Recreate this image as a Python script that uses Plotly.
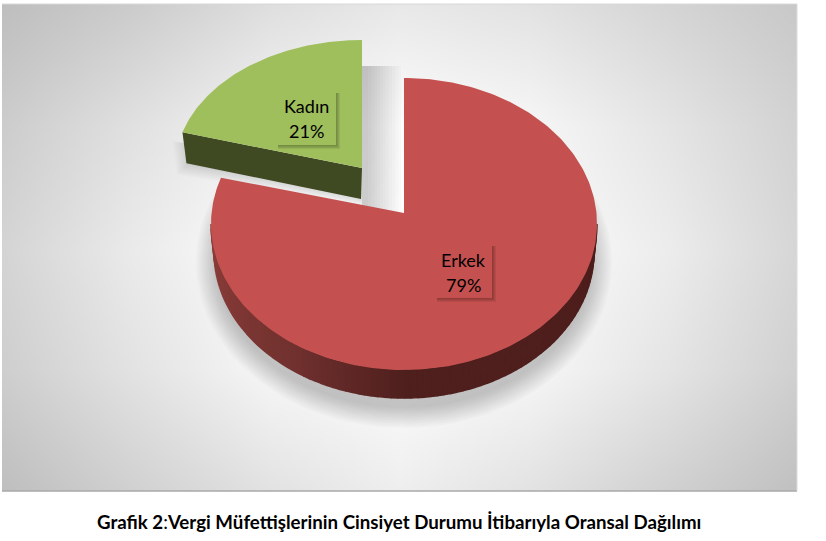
import numpy as np
import plotly.graph_objects as go

# pasta dilimleri
categories = ['Erkek', 'Kadın']
values = [79, 21]
caption_start = 'Grafik 2'
caption_end = 'Vergi Müfettişlerinin Cinsiyet Durumu İtibarıyla Oransal Dağılımı'

# arka plan gri tonlari
bg_x = [2, 130, 270, 400, 530, 670, 797]
bg_y = [4, 125, 250, 370, 491]
bg_grey = [
    [190, 203, 222, 232, 226, 212, 200],
    [204, 224, 244, 252, 246, 228, 210],
    [212, 234, 252, 255, 252, 236, 214],
    [206, 226, 246, 252, 246, 228, 208],
    [190, 208, 226, 238, 226, 208, 192],
]

RED, GREEN = '#c4514f', '#9fbe5c'
GREEN_SIDE = '#3f4a22'
RAY_RY = 145


def arc(apex, cx, cy, rx, ry, start, end, n=120):
    # dilim yayi: tepe noktasindan cikan isinin elipsle kesisimi
    pts_x, pts_y = [], []
    for a in np.linspace(start, end, n) * 2 * np.pi:
        dx, dy = np.sin(a) * rx, -np.cos(a) * RAY_RY
        ox, oy = apex[0] - cx, apex[1] - cy
        qa = (dx / rx) ** 2 + (dy / ry) ** 2
        qb = 2 * (ox * dx / rx ** 2 + oy * dy / ry ** 2)
        qc = (ox / rx) ** 2 + (oy / ry) ** 2 - 1
        s = (-qb + np.sqrt(qb ** 2 - 4 * qa * qc)) / (2 * qa)
        pts_x.append(apex[0] + s * dx)
        pts_y.append(apex[1] + s * dy)
    return pts_x, pts_y


def poly(fig, xs, ys, color, line=False):
    fig.add_trace(go.Scatter(
        x=list(xs), y=list(ys), mode='lines', fill='toself', fillcolor=color,
        line=dict(width=1.5 if line else 0, color=color),
        hoverinfo='skip', showlegend=False))


fig = go.Figure()
fig.add_trace(go.Heatmap(
    x=bg_x, y=bg_y, z=bg_grey, zsmooth='best', showscale=False, hoverinfo='skip',
    zmin=0, zmax=255, colorscale=[[0, '#000000'], [1, '#ffffff']]))

red_frac = values[0] / sum(values)

# golgeler
for d in range(0, 21, 2):
    x, y = arc((404, 224), 404, 262, 188 + d, 146 + d, 0, red_frac)
    poly(fig, [404] + x, [224] + y, 'rgba(0,0,0,0.018)')
for x1 in range(368, 404, 3):
    poly(fig, [362, x1, x1, 362], [66, 66, 216, 216], 'rgba(0,0,0,0.014)')

gx, gy = arc((362, 168), 362, 168, 187, 128, red_frac, 1)
for d in range(0, 17, 2):
    poly(fig, [gx[0] + 6 - d, 362, 362, gx[0] + 6 - d * 0.7],
         [gy[0] + 12 - d * 0.2, 168, 199 + d * 0.5, gy[0] + 31 + d * 0.7], 'rgba(0,0,0,0.016)')

# erkek dilimi yan yuzu, soldan saga koyulasir
side_t = np.linspace(270, 90, 91)
side_r = np.interp(side_t, [90, 180, 215, 270], [77, 78, 112, 142])
side_g = np.interp(side_t, [90, 180, 215, 270], [30, 31, 49, 62])
side_b = np.interp(side_t, [90, 180, 215, 270], [28, 29, 46, 58])
for i in range(len(side_t) - 1):
    t = np.radians(side_t[i:i + 2])
    top_x = 404 + 193 * np.sin(t)
    top_y = 224 - 146 * np.cos(t)
    low_x = 404 + 190 * np.sin(t)
    low_y = 252 - 146 * np.cos(t)
    poly(fig, list(top_x) + list(low_x[::-1]), list(top_y) + list(low_y[::-1]),
         f'rgb({side_r[i]:.0f},{side_g[i]:.0f},{side_b[i]:.0f})', line=True)

# erkek dilimi ust yuzu
x, y = arc((404, 213), 404, 224, 193, 146, 0, red_frac, n=240)
poly(fig, [404] + x, [213] + y, RED)

# kadin dilimi, disari cekilmis
poly(fig, [gx[0], 362, 361, gx[0] + 4], [gy[0], 168, 199, gy[0] + 31], GREEN_SIDE)
poly(fig, [362] + gx, [168] + gy, GREEN)

# etiket kutulari
boxes = [(436, 492, 245, 298, RED), (277, 336, 92, 145, GREEN)]
shapes = []
for x0, x1, y0, y1, col in boxes:
    for off in range(0, 5):
        shapes.append(dict(type='rect', x0=x0 + 1, x1=x1 + off, y0=y0 + 1, y1=y1 + off,
                           fillcolor='rgba(0,0,0,0.07)', line_width=0))
    shapes.append(dict(type='rect', x0=x0, x1=x1, y0=y0, y1=y1, fillcolor=col, line_width=0))

# panelin disi beyaz kalsin
for x0, x1, y0, y1 in [(0, 2, 0, 541), (797, 826, 0, 541), (0, 826, 0, 4), (0, 826, 491, 541)]:
    shapes.append(dict(type='rect', x0=x0, x1=x1, y0=y0, y1=y1, fillcolor='white', line_width=0))
# panel kenari
shapes.append(dict(type='line', x0=2, x1=797, y0=491, y1=491, line=dict(color='#a8a8a8', width=1.5)))
shapes.append(dict(type='line', x0=797, x1=797, y0=4, y1=491, line=dict(color='#dcdcdc', width=1)))
shapes.append(dict(type='line', x0=2, x1=797, y0=4, y1=4, line=dict(color='#d8d8d8', width=1)))

labels = [(463, 260), (306, 106)]
annotations = []
for name, val, (lx, ly) in zip(categories, values, labels):
    annotations.append(dict(x=lx, y=ly, text=name, showarrow=False,
                            font=dict(family='Lato', size=18, color='#000000')))
    annotations.append(dict(x=lx, y=ly + 25, text=f'{val}%', showarrow=False,
                            font=dict(family='Lato', size=18, color='#000000')))
annotations.append(dict(x=399, y=522, showarrow=False,
                        text=f'<b>{caption_start}</b>:<b>{caption_end}</b>',
                        font=dict(family='Lato', size=18.7, color='#000000')))

fig.update_layout(
    width=826, height=541, margin=dict(l=0, r=0, t=0, b=0),
    paper_bgcolor='white', plot_bgcolor='white',
    xaxis=dict(range=[0, 826], visible=False, fixedrange=True),
    yaxis=dict(range=[541, 0], visible=False, fixedrange=True),
    shapes=shapes, annotations=annotations, showlegend=False)

fig.write_html("out.html", config=dict(displayModeBar=False),
               post_script="document.body.style.margin='0';document.documentElement.style.overflow='hidden';")
